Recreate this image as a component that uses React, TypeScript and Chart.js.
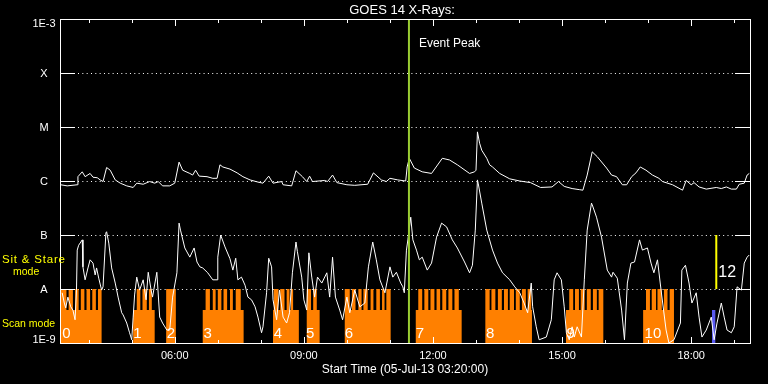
import React, { useEffect, useRef } from 'react';
import { Chart, registerables } from 'chart.js';

Chart.register(...registerables);

// Time axis: minutes since 00:00 on 05-Jul-13
const startMinutes = 200; // 03:20
const endMinutes = 1162;

// GOES 14 long channel (1-8 A), log10 of flux in W/m^2
const longTimes = [
  201, 210, 224, 225, 231, 235, 242, 246, 252, 256, 260, 265, 270, 277, 284, 293, 302, 307, 316, 325,
  332, 337, 343, 353, 360, 366, 371, 381, 385, 389, 394, 405, 413, 419, 423, 427, 437, 447, 455, 465,
  476, 483, 491, 497, 509, 511, 523, 529, 538, 544, 548, 552, 569, 573, 580, 586, 600, 611, 629, 637,
  648, 655, 660, 671, 682, 684, 687, 694, 705, 718, 733, 743, 754, 771, 778, 780, 782, 785, 788, 795,
  799, 803, 813, 827, 841, 856, 870, 886, 895, 903, 914, 924, 929, 935, 942, 949, 962, 969, 976, 984,
  990, 997, 1003, 1009, 1017, 1026, 1035, 1040, 1054, 1068, 1073, 1080, 1084, 1091, 1101, 1115, 1122, 1129, 1136, 1143,
  1147, 1154, 1158, 1161,
];
const longLog = [
  -6.07, -6.09, -6.07, -5.92, -5.83, -5.92, -5.86, -5.93, -5.94, -5.98, -6.01, -5.75, -5.8, -5.98, -6.04, -6.09, -6.12, -6.04, -6.06, -6.01,
  -6.04, -6.01, -6.09, -6.09, -6.04, -5.65, -5.8, -5.86, -5.89, -5.8, -5.91, -5.92, -5.95, -5.95, -5.7, -5.74, -5.78, -5.85, -5.92, -5.98,
  -6.02, -6.04, -5.91, -6.04, -6.01, -6.07, -6.09, -5.81, -5.92, -6.01, -5.91, -6.01, -5.99, -6.01, -5.89, -6.03, -6.07, -6.08, -6.06, -5.85,
  -5.98, -6.01, -5.95, -5.98, -6.0, -5.74, -5.58, -5.76, -5.83, -5.86, -5.58, -5.61, -5.7, -5.86, -5.83, -5.8, -5.09, -5.3, -5.43, -5.58,
  -5.7, -5.74, -5.86, -5.96, -6.0, -6.03, -6.12, -6.11, -6.01, -6.1, -6.14, -6.16, -6.17, -5.89, -5.46, -5.55, -5.76, -5.89, -5.92, -6.07,
  -6.07, -5.92, -5.85, -5.74, -5.8, -5.89, -5.95, -6.01, -6.07, -6.17, -5.99, -6.07, -6.03, -6.11, -6.15, -6.12, -6.14, -6.11, -6.15, -6.15,
  -6.06, -6.04, -5.89, -5.86,
];

// GOES 14 short channel (0.5-4 A), log10 of flux in W/m^2
const shortTimes = [
  203, 206, 208, 211, 215, 218, 221, 223, 224, 226, 231, 232, 235, 239, 242, 246, 249, 251, 254, 258,
  260, 264, 265, 268, 272, 277, 281, 286, 288, 293, 297, 300, 302, 304, 307, 311, 316, 320, 323, 327,
  329, 335, 339, 343, 349, 353, 357, 363, 366, 368, 374, 381, 387, 391, 395, 399, 406, 413, 419, 420,
  424, 430, 437, 441, 445, 448, 453, 458, 462, 467, 472, 476, 481, 483, 488, 491, 495, 497, 502, 506,
  511, 516, 520, 524, 529, 531, 537, 540, 544, 547, 551, 555, 559, 565, 572, 576, 580, 584, 590, 594,
  600, 604, 611, 618, 625, 630, 636, 641, 646, 653, 660, 664, 669, 675, 678, 680, 683, 685, 689, 692,
  697, 701, 705, 712, 718, 725, 732, 739, 747, 754, 764, 771, 775, 779, 782, 783, 788, 795, 803, 810,
  817, 827, 834, 841, 847, 852, 857, 859, 864, 868, 878, 885, 889, 893, 899, 903, 906, 910, 914, 917,
  921, 927, 931, 935, 941, 942, 948, 955, 963, 969, 971, 977, 983, 987, 991, 996, 1001, 1008, 1012, 1019,
  1024, 1028, 1033, 1038, 1045, 1049, 1056, 1065, 1067, 1072, 1077, 1081, 1087, 1091, 1095, 1101, 1108, 1112, 1116, 1122,
  1126, 1130, 1136, 1140, 1144, 1150, 1154, 1158, 1161,
];
const shortLog = [
  -8.07, -8.26, -8.35, -8.15, -8.33, -8.39, -8.57, -8.02, -7.28, -7.19, -7.09, -7.59, -7.83, -7.61, -7.46, -7.52, -7.74, -7.61, -7.8, -8.02,
  -7.96, -6.96, -6.94, -7.15, -7.61, -7.89, -8.15, -8.44, -8.48, -8.63, -8.81, -8.94, -8.52, -8.11, -7.78, -8.02, -7.83, -8.2, -7.69, -8.02,
  -8.15, -7.69, -8.52, -8.63, -8.76, -8.76, -8.15, -7.7, -6.78, -6.91, -7.24, -7.41, -7.24, -7.5, -7.59, -7.61, -7.7, -7.83, -7.83, -7.41,
  -7.0, -7.22, -7.44, -7.65, -7.43, -7.83, -7.78, -7.93, -8.15, -8.2, -8.33, -8.52, -8.81, -8.7, -8.07, -7.43, -7.59, -8.2, -8.57, -8.02,
  -8.52, -8.63, -8.44, -7.7, -7.13, -7.31, -7.78, -8.2, -8.39, -7.33, -7.78, -8.15, -7.78, -7.89, -7.7, -8.15, -7.41, -8.15, -8.39, -8.57,
  -8.15, -8.44, -8.02, -8.33, -8.26, -7.59, -7.13, -7.46, -7.83, -8.07, -7.59, -7.78, -7.69, -7.89, -7.96, -8.07, -7.28, -7.09, -6.67, -7.09,
  -7.28, -7.46, -7.41, -7.65, -7.52, -7.04, -6.78, -6.85, -7.09, -7.24, -7.5, -7.7, -7.56, -6.91, -5.98, -6.04, -6.41, -6.91, -7.28, -7.52,
  -7.7, -7.83, -7.96, -8.07, -8.26, -8.44, -7.89, -8.33, -8.7, -8.94, -8.89, -8.57, -7.83, -7.7, -7.83, -8.33, -8.81, -8.94, -8.7, -8.89,
  -8.7, -8.89, -7.83, -6.91, -6.41, -6.44, -6.67, -7.04, -7.65, -7.78, -7.69, -7.8, -8.39, -8.94, -7.89, -7.52, -7.5, -7.09, -7.28, -7.24,
  -7.52, -7.7, -7.46, -8.02, -8.76, -9.0, -8.94, -8.63, -7.65, -7.56, -7.89, -8.26, -8.07, -8.52, -8.89, -8.76, -8.52, -8.94, -8.63, -8.26,
  -8.52, -8.76, -8.81, -8.7, -7.96, -8.02, -7.52, -7.41, -7.37,
];

// Observing mode timeline: 0 = none, 1 = scan mode, 2 = sit & stare mode (holds until next time)
const modeTimes = [
  201, 209, 212, 218, 221, 226, 229, 234, 237, 242, 245, 250, 253, 258,
  302, 307, 312, 315, 321, 324, 328, 332,
  348, 361.5,
  399, 403, 409, 413, 417, 420, 425, 428, 433, 437, 441, 445, 452, 456,
  497, 498, 504.5, 507, 513, 516, 520, 522, 525, 533,
  544, 550, 553, 558, 562,
  597, 604, 607, 612, 616, 620.5, 623, 629, 633, 637, 641, 646, 649, 652.5, 655, 661,
  696, 699.5, 705, 708, 713.5, 716.5, 722, 725, 730, 733, 738.5, 741.5, 747, 750, 756, 760,
  793, 799, 801.5, 807, 810.5, 816, 819, 824.5, 827, 833, 835.5, 841, 844, 849.5, 852, 857, 858,
  905.5, 910, 915.5, 918, 923.5, 926, 931.5, 934.5, 940, 943, 948.5, 951, 957.5,
  1013, 1017, 1022.5, 1025, 1031, 1033, 1039, 1042, 1047, 1050, 1056,
  1162,
];
const modeCodes = [
  2, 1, 2, 1, 2, 1, 2, 1, 2, 1, 2, 1, 2, 0,
  1, 2, 1, 2, 1, 2, 1, 0,
  2, 0,
  1, 2, 1, 2, 1, 2, 1, 2, 1, 2, 1, 2, 1, 0,
  1, 2, 1, 2, 1, 2, 1, 2, 1, 0,
  2, 1, 2, 1, 0,
  2, 1, 2, 1, 2, 1, 2, 1, 2, 1, 2, 1, 2, 1, 2, 0,
  1, 2, 1, 2, 1, 2, 1, 2, 1, 2, 1, 2, 1, 2, 1, 0,
  2, 1, 2, 1, 2, 1, 2, 1, 2, 1, 2, 1, 2, 1, 2, 1, 0,
  1, 2, 1, 2, 1, 2, 1, 2, 1, 2, 1, 2, 0,
  1, 2, 1, 2, 1, 2, 1, 2, 1, 2, 0,
  0,
];

// Extra (blue) scan interval
const extraScanTimes = [1109, 1114];
const extraScanCodes = [1, 0];

// Sequence labels
const blockNames = ['0', '1', '2', '3', '4', '5', '6', '7', '8', '9', '10'];
const blockLabelTimes = [203, 302, 349, 400, 498, 543, 597, 696, 794, 906, 1015];

// Event peak and marker "12"
const eventPeakTime = 686.5;
const eventLabel = 'Event Peak';
const markerTime = 1115;
const markerLogRange = [-7, -8];
const markerLabel = '12';

// Axes
const yTickLogs = [-9, -8, -7, -6, -5, -4, -3];
const yTickLabels = ['1E-9', 'A', 'B', 'C', 'M', 'X', '1E-3'];
const yGridLogs = [-8, -7, -6, -5, -4];
const xMinorTicks = [240, 300, 360, 420, 480, 540, 600, 660, 720, 780, 840, 900, 960, 1020, 1080, 1140];
const xMajorTicks = [360, 540, 720, 900, 1080];
const xLabelTexts = ['06:00', '09:00', '12:00', '15:00', '18:00'];
const titleText = 'GOES 14 X-Rays:';
const xTitleText = 'Start Time (05-Jul-13 03:20:00)';

const FONT = '"Liberation Sans", Arial, sans-serif';
const ORANGE = '#ff8000';
const MODE_LOG = [-9, -8.39, -8]; // fill heights for none / scan / sit & stare

const pts = (xs: number[], logs: number[]) => xs.map((x, i) => ({ x, y: Math.pow(10, logs[i]) }));
const modePts = (xs: number[], codes: number[]) => xs.map((x, i) => ({ x, y: Math.pow(10, MODE_LOG[codes[i]]) }));

const decorPlugin = {
  id: 'decor',
  beforeDraw(chart: any) {
    const { ctx, width, height } = chart;
    ctx.save();
    ctx.fillStyle = '#000';
    ctx.fillRect(0, 0, width, height);
    ctx.restore();
  },
  beforeDatasetsDraw(chart: any) {
    const { ctx, chartArea: a, scales } = chart;
    const y = scales.y;
    ctx.save();
    ctx.strokeStyle = '#fff';
    ctx.lineWidth = 1;
    ctx.setLineDash([1, 3.33]);
    for (const v of yGridLogs) {
      const py = Math.round(y.getPixelForValue(Math.pow(10, v))) + 0.5;
      ctx.beginPath();
      ctx.moveTo(a.left + 18, py);
      ctx.lineTo(a.right - 15, py);
      ctx.stroke();
    }
    ctx.restore();
  },
  afterDatasetsDraw(chart: any) {
    const { ctx, chartArea: a, scales } = chart;
    const x = scales.x;
    const y = scales.y;
    ctx.save();
    ctx.strokeStyle = '#fff';
    ctx.lineWidth = 1;
    ctx.setLineDash([]);
    // frame
    ctx.strokeRect(a.left + 0.5, a.top + 0.5, a.right - a.left, a.bottom - a.top);
    // y ticks
    ctx.beginPath();
    for (const v of yTickLogs) {
      const py = Math.round(y.getPixelForValue(Math.pow(10, v))) + 0.5;
      ctx.moveTo(a.left, py);
      ctx.lineTo(a.left + 15, py);
      ctx.moveTo(a.right - 15, py);
      ctx.lineTo(a.right + 1, py);
    }
    // x ticks
    for (const t of xMinorTicks) {
      const px = Math.round(x.getPixelForValue(t)) + 0.5;
      const len = xMajorTicks.includes(t) ? 7 : 4;
      ctx.moveTo(px, a.top);
      ctx.lineTo(px, a.top + len);
      ctx.moveTo(px, a.bottom + 1);
      ctx.lineTo(px, a.bottom + 1 - len);
    }
    ctx.stroke();

    // y labels
    ctx.fillStyle = '#fff';
    ctx.font = `11px ${FONT}`;
    ctx.textAlign = 'center';
    ctx.textBaseline = 'alphabetic';
    yTickLogs.forEach((v, i) => {
      const py = y.getPixelForValue(Math.pow(10, v));
      let base = py + 4;
      if (i === yTickLogs.length - 1) base = a.top + 8;
      if (i === 0) base = a.bottom;
      ctx.fillText(yTickLabels[i], a.left - 16, base);
    });

    // x labels
    ctx.font = `11px ${FONT}`;
    xMajorTicks.forEach((t, i) => {
      ctx.fillText(xLabelTexts[i], x.getPixelForValue(t), a.bottom + 16);
    });
    ctx.font = `12px ${FONT}`;
    ctx.fillText(xTitleText, (a.left + a.right) / 2, a.bottom + 30);

    // title
    ctx.font = `13px ${FONT}`;
    ctx.fillText(titleText, (a.left + a.right) / 2 - 3, 14);

    // event label
    ctx.textAlign = 'left';
    ctx.font = `12px ${FONT}`;
    ctx.fillText(eventLabel, x.getPixelForValue(eventPeakTime) + 10, a.top + 28);

    // block labels
    ctx.font = `15px ${FONT}`;
    blockNames.forEach((n, i) => {
      ctx.fillText(n, x.getPixelForValue(blockLabelTimes[i]), a.bottom - 5);
    });

    // marker label
    ctx.font = `16px ${FONT}`;
    ctx.fillText(markerLabel, x.getPixelForValue(markerTime) + 2, y.getPixelForValue(Math.pow(10, markerLogRange[1])) - 12);

    // mode legend text
    ctx.fillStyle = '#ffff00';
    ctx.font = `11.5px ${FONT}`;
    try { (ctx as any).letterSpacing = '0.8px'; } catch (e) { /* ignore */ }
    ctx.fillText('Sit & Stare', 2, 263);
    try { (ctx as any).letterSpacing = '0px'; } catch (e) { /* ignore */ }
    ctx.font = `10.5px ${FONT}`;
    ctx.fillText('mode', 13, 275);
    ctx.fillText('Scan mode', 2, 327);
    ctx.restore();
  },
};

export default function App() {
  const ref = useRef<HTMLCanvasElement>(null);
  useEffect(() => {
    if (!ref.current) return;
    const chart = new Chart(ref.current, {
      type: 'line',
      data: {
        datasets: [
          {
            data: [{ x: eventPeakTime, y: 1e-3 }, { x: eventPeakTime, y: 1e-9 }],
            borderColor: '#9acd32',
            borderWidth: 2,
            pointRadius: 0,
          },
          {
            data: [
              { x: markerTime, y: Math.pow(10, markerLogRange[0]) },
              { x: markerTime, y: Math.pow(10, markerLogRange[1]) },
            ],
            borderColor: '#ffff00',
            borderWidth: 2,
            pointRadius: 0,
          },
          {
            data: pts(shortTimes, shortLog),
            borderColor: '#ffffff',
            borderWidth: 1,
            pointRadius: 0,
            tension: 0,
          },
          {
            data: pts(longTimes, longLog),
            borderColor: '#ffffff',
            borderWidth: 1,
            pointRadius: 0,
            tension: 0,
          },
          {
            data: modePts(extraScanTimes, extraScanCodes),
            stepped: true,
            fill: 'start',
            backgroundColor: '#5a5af0',
            borderColor: 'rgba(0,0,0,0)',
            borderWidth: 1,
            pointRadius: 0,
          },
          {
            data: modePts(modeTimes, modeCodes),
            stepped: true,
            fill: 'start',
            backgroundColor: ORANGE,
            borderColor: 'rgba(0,0,0,0)',
            borderWidth: 1,
            pointRadius: 0,
          },
        ],
      } as any,
      options: {
        responsive: false,
        animation: false,
        devicePixelRatio: 1,
        events: [],
        layout: { padding: { left: 60, top: 19, right: 18, bottom: 41 } },
        plugins: {
          legend: { display: false },
          tooltip: { enabled: false },
          title: { display: false },
        },
        scales: {
          x: { type: 'linear', min: startMinutes, max: endMinutes, display: false },
          y: { type: 'logarithmic', min: 1e-9, max: 1e-3, display: false },
        },
      } as any,
      plugins: [decorPlugin],
    });
    return () => chart.destroy();
  }, []);
  return (
    <div style={{ position: 'fixed', left: 0, top: 0, width: 768, height: 384, background: '#000' }}>
      <canvas ref={ref} width={768} height={384} style={{ display: 'block' }} />
    </div>
  );
}
